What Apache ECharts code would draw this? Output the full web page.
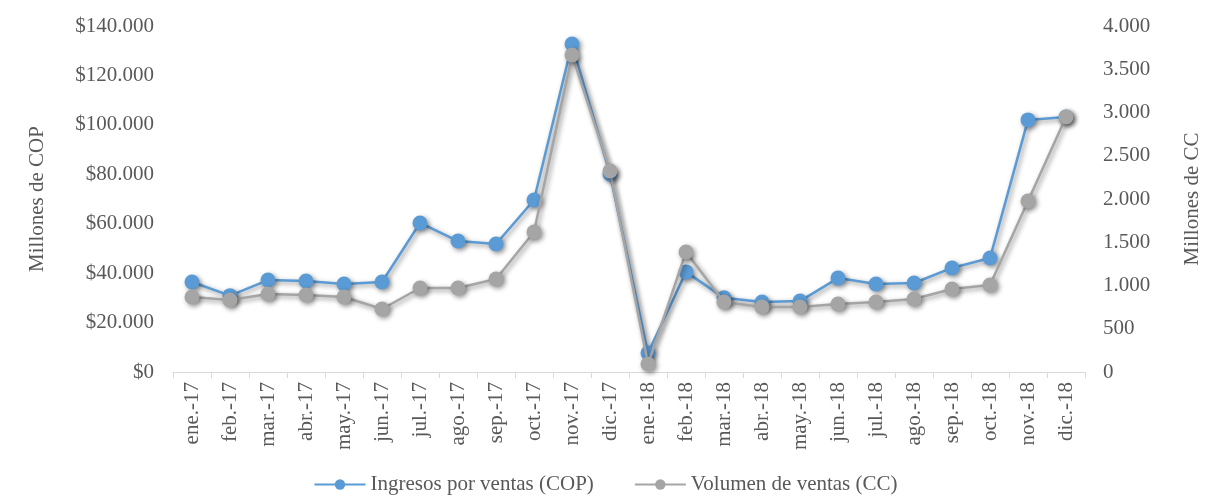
<!DOCTYPE html>
<html>
<head>
<meta charset="utf-8">
<script src="https://cdn.jsdelivr.net/npm/echarts@6/dist/echarts.min.js"></script>
<style>
  html, body { margin: 0; padding: 0; background: #fff; }
  #chart { width: 1211px; height: 500px; }
</style>
</head>
<body>
<div id="chart"></div>
<script>
// months on the x axis
const months = ['ene.-17', 'feb.-17', 'mar.-17', 'abr.-17', 'may.-17', 'jun.-17', 'jul.-17', 'ago.-17',
  'sep.-17', 'oct.-17', 'nov.-17', 'dic.-17', 'ene.-18', 'feb.-18', 'mar.-18', 'abr.-18', 'may.-18',
  'jun.-18', 'jul.-18', 'ago.-18', 'sep.-18', 'oct.-18', 'nov.-18', 'dic.-18']

// revenue, millones de COP (left axis)
const ingresos = [36400, 30900, 37200, 36800, 35600, 36400, 60300, 53000, 51800, 69600, 132700, 80100,
  7700, 40500, 30000, 28300, 28700, 38000, 35600, 36000, 42100, 46100, 102000, 103200]

// volume, CC (right axis)
const volumen = [867, 832, 902, 890, 867, 728, 971, 971, 1075, 1618, 3665, 2324,
  92, 1387, 809, 751, 751, 786, 809, 844, 960, 1006, 1977, 2948]

const leftTicks = { min: 0, max: 140000, interval: 20000 }
const rightTicks = { min: 0, max: 4000, interval: 500 }

const fmt = v => String(v).replace(/\B(?=(\d{3})+(?!\d))/g, '.')

const font = 'Liberation Serif'
const textColor = '#595959'

const chart = echarts.init(document.getElementById('chart'))

const shadow = {
  shadowBlur: 5,
  shadowOffsetX: 2,
  shadowOffsetY: 2,
  shadowColor: 'rgba(0,0,0,0.45)'
}

chart.setOption({
  animation: false,
  textStyle: { fontFamily: font },
  grid: { left: 173, right: 126, top: 26, bottom: 128 },
  legend: {
    bottom: 0,
    left: 'center',
    itemWidth: 51,
    itemHeight: 13,
    itemGap: 40,
    textStyle: { fontFamily: font, fontSize: 21, color: textColor },
    data: ['Ingresos por ventas (COP)', 'Volumen de ventas (CC)']
  },
  xAxis: {
    type: 'category',
    data: months,
    boundaryGap: true,
    axisLine: { lineStyle: { color: '#d9d9d9', width: 1 } },
    axisTick: { show: true, length: 6, lineStyle: { color: '#d9d9d9' } },
    axisLabel: { rotate: 90, fontFamily: font, fontSize: 21, color: textColor, margin: 10 }
  },
  yAxis: [
    {
      type: 'value',
      ...leftTicks,
      name: 'Millones de COP',
      nameLocation: 'middle',
      nameRotate: 90,
      nameGap: 125,
      nameTextStyle: { fontFamily: font, fontSize: 21, color: textColor },
      axisLine: { show: false },
      axisTick: { show: false },
      splitLine: { show: false },
      axisLabel: { fontFamily: font, fontSize: 21, color: textColor, margin: 19,
        formatter: v => '$' + fmt(v) }
    },
    {
      type: 'value',
      ...rightTicks,
      name: 'Millones de CC',
      nameLocation: 'middle',
      nameRotate: 90,
      nameGap: 97,
      nameTextStyle: { fontFamily: font, fontSize: 21, color: textColor },
      axisLine: { show: false },
      axisTick: { show: false },
      splitLine: { show: false },
      axisLabel: { fontFamily: font, fontSize: 21, color: textColor, margin: 18,
        formatter: v => fmt(v) }
    }
  ],
  series: [
    {
      name: 'Ingresos por ventas (COP)',
      type: 'line',
      yAxisIndex: 0,
      data: ingresos,
      symbol: 'circle',
      symbolSize: 15,
      z: 3,
      lineStyle: { color: '#5b9bd5', width: 2.5, ...shadow },
      itemStyle: { color: '#5b9bd5', ...shadow }
    },
    {
      name: 'Volumen de ventas (CC)',
      type: 'line',
      yAxisIndex: 1,
      data: volumen,
      symbol: 'circle',
      symbolSize: 15,
      z: 4,
      lineStyle: { color: '#a5a5a5', width: 2.5, ...shadow },
      itemStyle: { color: '#a5a5a5', ...shadow }
    }
  ]
})
</script>
</body>
</html>
